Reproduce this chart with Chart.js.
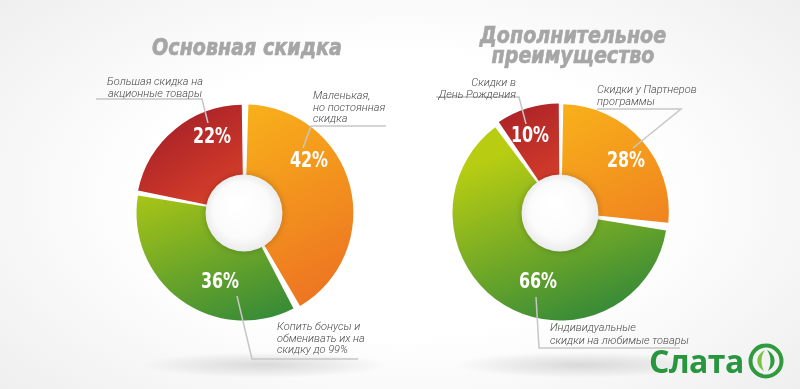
<!DOCTYPE html>
<html>
<head>
<meta charset="utf-8">
<script src="https://cdn.jsdelivr.net/npm/chart.js@4.4.1/dist/chart.umd.min.js"></script>
<style>
  html, body { margin: 0; padding: 0; }
  body {
    width: 800px; height: 389px; overflow: hidden; position: relative;
    background: radial-gradient(ellipse 70% 80% at 50% 50%, #ffffff 45%, #ededed 100%);
    font-family: Roboto, "Noto Sans", sans-serif;
  }
  .shadow {
    position: absolute; height: 26px; border-radius: 50%;
    background: radial-gradient(ellipse at center, rgba(0,0,0,0.13) 0%, rgba(0,0,0,0.05) 45%, rgba(0,0,0,0) 70%);
  }
  canvas { position: absolute; }
  svg.lines { position: absolute; left: 0; top: 0; }
  .title {
    position: absolute; color: #a6a6a6; font-family: "DejaVu Sans", sans-serif;
    font-weight: bold; font-style: italic; font-size: 23px; line-height: 20px;
    text-align: center; transform: translateX(-50%) scaleX(0.83); white-space: nowrap;
    -webkit-text-stroke: 0.7px #a6a6a6;
  }
  .note {
    position: absolute; color: #4a4a4a; font-style: italic; font-size: 11px; line-height: 11.5px;
    white-space: nowrap; font-weight: 300;
  }
  .pct {
    position: absolute; color: #fff; font-family: "DejaVu Sans", sans-serif;
    font-weight: bold; font-size: 21px; transform: translate(-50%, -50%) scaleX(0.76); white-space: nowrap;
  }
  .logo {
    position: absolute; left: 649px; top: 341px; color: #28963f;
    font-family: "Open Sans", sans-serif; font-weight: bold; font-size: 32px; line-height: 40px;
    letter-spacing: -0.5px;
  }
</style>
</head>
<body>
<div class="shadow" style="left:140px; top:352px; width:250px;"></div>
<div class="shadow" style="left:455px; top:352px; width:250px;"></div>

<canvas id="left" width="260" height="260" style="left:114px; top:83px;"></canvas>
<canvas id="right" width="260" height="260" style="left:430px; top:83px;"></canvas>

<svg class="lines" width="800" height="389">
  <g fill="none" stroke="#c6c6c6" stroke-width="1.5">
    <polyline points="96,99 202,99 208,123"/>
    <polyline points="386,126 311,126 303,148"/>
    <polyline points="237,296 252,359 358,359"/>
    <polyline points="436,97 519,97 526,124"/>
    <polyline points="597,109 681,109 633,148"/>
    <polyline points="536,297 539,348 680,348"/>
  </g>
  <!-- знак логотипа -->
  <g transform="translate(766,361)">
    <circle r="15.5" fill="none" stroke="#2f9a3e" stroke-width="4"/>
    <path d="M-2,10 C-11,5 -11,-6 -1,-11 C-6,-4 -5,4 -2,10 Z" fill="#7cc242"/>
    <path d="M2,10 C11,5 11,-6 1,-11 C6,-4 5,4 2,10 Z" fill="#2f9a3e"/>
  </g>
</svg>

<div class="title" style="left:247px; top:37px;">Основная скидка</div>
<div class="title" style="left:573px; top:25px;">Дополнительное<br>преимущество</div>

<div class="note" style="left:100px; top:76px; width:110px; text-align:center;">Большая скидка на<br>акционные товары</div>
<div class="note" style="left:313px; top:90px;">Маленькая,<br>но постоянная<br>скидка</div>
<div class="note" style="left:277px; top:321px;">Копить бонусы и<br>обменивать их на<br>скидку до 99%</div>
<div class="note" style="left:436px; top:77px; width:80px; text-align:right;">Скидки в<br>День Рождения</div>
<div class="note" style="left:597px; top:84px; line-height:12px;">Скидки у Партнеров<br>программы</div>
<div class="note" style="left:550px; top:322px; line-height:12.5px;">Индивидуальные<br>скидки на любимые товары</div>

<div class="logo">Слата</div>

<script>
// Основная скидка
const leftLabels = ["Маленькая, но постоянная скидка", "Копить бонусы и обменивать их на скидку до 99%", "Большая скидка на акционные товары"];
const leftValues = [42, 36, 22];
const leftKinds = ["orange", "green", "red"];
const leftOffsets = [5, 0, 4];
const leftPctPos = [[309, 160], [220, 281], [212, 136]];

// Дополнительное преимущество
const rightLabels = ["Скидки у Партнеров программы", "Индивидуальные скидки на любимые товары", "Скидки в День Рождения"];
const rightValues = [28, 66, 10];
const rightKinds = ["orange", "green", "red"];
const rightOffsets = [7, 0, 6];
const rightPctPos = [[626, 160], [538, 281], [530, 135]];

// цвета: [начало, конец, направление градиента x0,y0,x1,y1 в долях области]
const palette = {
  orange: ["#f8b01a", "#ec6f22", [0.5, 0.1, 0.9, 0.85]],
  green:  ["#b8cd12", "#3a8c37", [0.2, 0.3, 0.45, 0.95]],
  red:    ["#a51f28", "#e0452a", [0.3, 0.05, 0.55, 0.45]]
};

function sliceFill(kinds) {
  return function (ctx) {
    const p = palette[kinds[ctx.dataIndex]];
    const area = ctx.chart.chartArea;
    if (!area) return p[0];
    const d = p[2];
    const g = ctx.chart.ctx.createLinearGradient(
      area.left + d[0] * area.width, area.top + d[1] * area.height,
      area.left + d[2] * area.width, area.top + d[3] * area.height);
    g.addColorStop(0, p[0]);
    g.addColorStop(1, p[1]);
    return g;
  };
}

// белый круг в центре
const holePlugin = {
  id: "hole",
  afterDatasetsDraw(chart) {
    const arc = chart.getDatasetMeta(0).data[0];
    const c = chart.ctx;
    const r = 38.5;
    c.save();
    c.shadowColor = "rgba(0,0,0,0.22)";
    c.shadowBlur = 7;
    const g = c.createRadialGradient(arc.x - 8, arc.y - 10, 4, arc.x, arc.y, r);
    g.addColorStop(0, "#ffffff");
    g.addColorStop(0.7, "#fbfbfb");
    g.addColorStop(1, "#ececec");
    c.fillStyle = g;
    c.beginPath();
    c.arc(arc.x, arc.y, r, 0, Math.PI * 2);
    c.fill();
    c.restore();
  }
};

function makeChart(id, labels, values, kinds, offsets) {
  return new Chart(document.getElementById(id), {
    type: "doughnut",
    data: {
      labels: labels,
      datasets: [{
        data: values,
        backgroundColor: sliceFill(kinds),
        borderWidth: 0,
        offset: offsets,
        spacing: 3
      }]
    },
    options: {
      responsive: false,
      animation: false,
      events: [],
      radius: 106,
      cutout: "30%",
      rotation: 0,
      layout: { padding: 0 },
      plugins: { legend: { display: false }, tooltip: { enabled: false } }
    },
    plugins: [holePlugin]
  });
}

makeChart("left", leftLabels, leftValues, leftKinds, leftOffsets);
makeChart("right", rightLabels, rightValues, rightKinds, rightOffsets);

function addPct(values, positions) {
  values.forEach((v, i) => {
    const el = document.createElement("div");
    el.className = "pct";
    el.textContent = v + "%";
    el.style.left = positions[i][0] + "px";
    el.style.top = positions[i][1] + "px";
    document.body.appendChild(el);
  });
}
addPct(leftValues, leftPctPos);
addPct(rightValues, rightPctPos);
</script>
</body>
</html>
